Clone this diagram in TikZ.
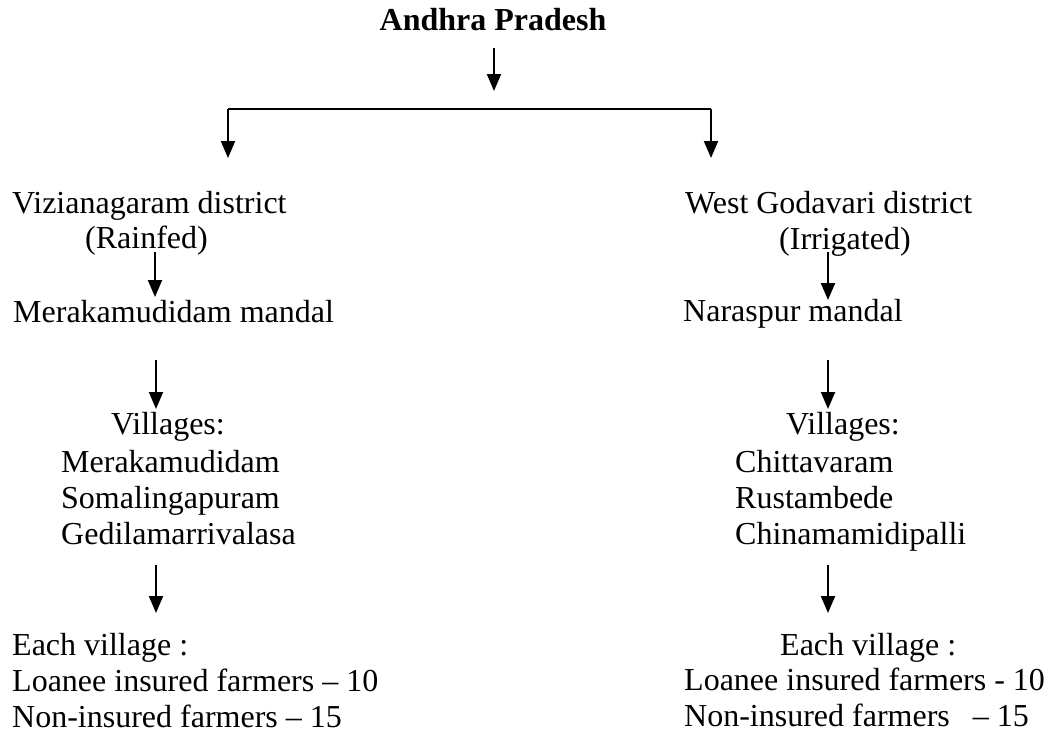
\documentclass[tikz,border=0pt]{standalone}
\usepackage{fontspec}
\setmainfont{Liberation Serif}
\usetikzlibrary{arrows.meta}
\begin{document}
\begin{tikzpicture}[x=1pt,y=-1pt,
  txt/.style={anchor=base west,inner sep=0pt,font=\fontsize{32}{36.8}\selectfont},
  arr/.style={line width=2pt,-{Triangle[width=14pt,length=17pt]}},
  bar/.style={line width=2pt}]
\useasboundingbox (0,0) rectangle (1052,734);
% texts
\node[txt,font=\fontsize{32}{36.8}\selectfont\bfseries,anchor=base] (ap) at (493,30) {Andhra Pradesh};
\node[txt] (vd) at (12,213) {Vizianagaram district};
\node[txt] (rf) at (85,248) {(Rainfed)};
\node[txt] (mm) at (13,322) {Merakamudidam mandal};
\node[txt] (vl) at (111,434) {Villages:};
\node[txt] (v1) at (61,472) {Merakamudidam};
\node[txt] (v2) at (61,508) {Somalingapuram};
\node[txt] (v3) at (61,544) {Gedilamarrivalasa};
\node[txt] (ev) at (12,655) {Each village :};
\node[txt] (li) at (12,691) {Loanee insured farmers – 10};
\node[txt] (ni) at (12,727) {Non-insured farmers – 15};
\node[txt] (wg) at (685,213) {West Godavari district};
\node[txt] (ir) at (779,249) {(Irrigated)};
\node[txt] (nm) at (683,321) {Naraspur mandal};
\node[txt] (vr) at (786,434) {Villages:};
\node[txt] (w1) at (735,472) {Chittavaram};
\node[txt] (w2) at (735,508) {Rustambede};
\node[txt] (w3) at (735,544) {Chinamamidipalli};
\node[txt] (er) at (780,655) {Each village :};
\node[txt] (lr) at (684,690) {Loanee insured farmers - 10};
\node[txt] (nr) at (684,726) {Non-insured farmers\hspace{23pt}– 15};
% connector points
\coordinate (t0) at (494,48);
\coordinate (t1) at (494,91);
\coordinate (bl) at (228,109);
\coordinate (br) at (711,109);
\coordinate (dl) at (228,158);
\coordinate (dr) at (711,158);
\coordinate (a1s) at (155,252); \coordinate (a1e) at (155,297);
\coordinate (b1s) at (828,252); \coordinate (b1e) at (828,300);
\coordinate (a2s) at (156,360); \coordinate (a2e) at (156,409);
\coordinate (b2s) at (828,360); \coordinate (b2e) at (828,409);
\coordinate (a3s) at (156,565); \coordinate (a3e) at (156,613);
\coordinate (b3s) at (828,565); \coordinate (b3e) at (828,613);
% connectors
\draw[arr] (t0) -- (t1);
\draw[bar] (bl) -- (br);
\draw[arr] (bl) -- (dl);
\draw[arr] (br) -- (dr);
\draw[arr] (a1s) -- (a1e);
\draw[arr] (b1s) -- (b1e);
\draw[arr] (a2s) -- (a2e);
\draw[arr] (b2s) -- (b2e);
\draw[arr] (a3s) -- (a3e);
\draw[arr] (b3s) -- (b3e);
\end{tikzpicture}
\end{document}
